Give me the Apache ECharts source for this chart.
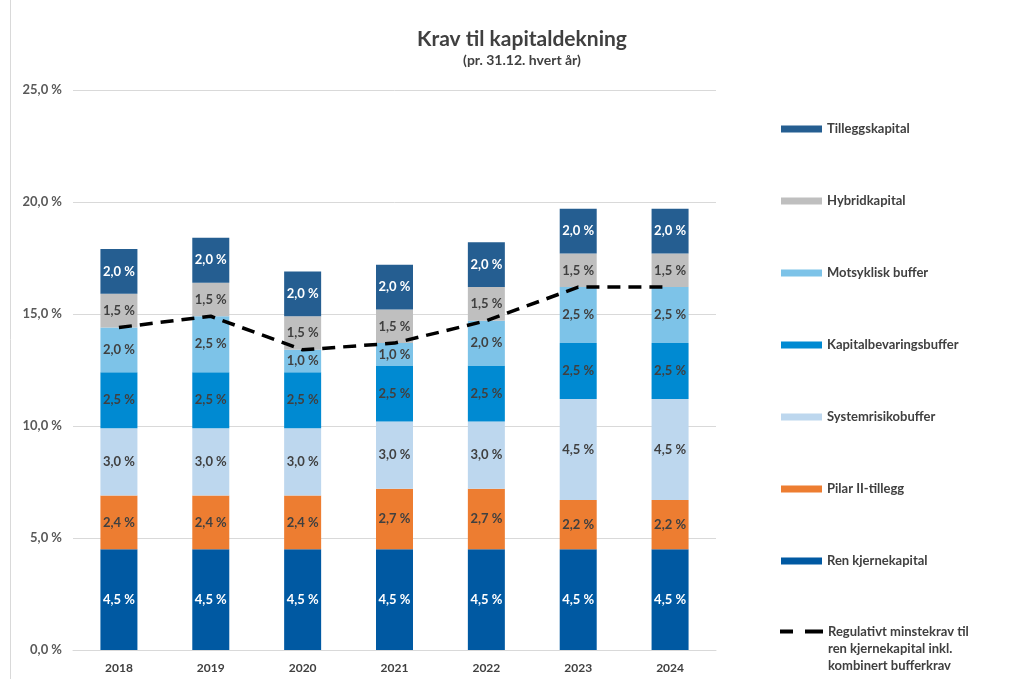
<!DOCTYPE html>
<html>
<head>
<meta charset="utf-8">
<script src="https://cdn.jsdelivr.net/npm/echarts@6/dist/echarts.min.js"></script>
<style>
html,body{margin:0;padding:0;background:#fff;}
#c{width:1014px;height:679px;}
</style>
</head>
<body>
<div id="c"></div>
<script>
const years = ['2018','2019','2020','2021','2022','2023','2024'];
const renKjernekapital = [4.5,4.5,4.5,4.5,4.5,4.5,4.5];
const pilarII = [2.4,2.4,2.4,2.7,2.7,2.2,2.2];
const systemrisikobuffer = [3.0,3.0,3.0,3.0,3.0,4.5,4.5];
const kapitalbevaringsbuffer = [2.5,2.5,2.5,2.5,2.5,2.5,2.5];
const motsykliskBuffer = [2.0,2.5,1.0,1.0,2.0,2.5,2.5];
const hybridkapital = [1.5,1.5,1.5,1.5,1.5,1.5,1.5];
const tilleggskapital = [2.0,2.0,2.0,2.0,2.0,2.0,2.0];
const minstekrav = [14.4,14.9,13.4,13.7,14.7,16.2,16.2];
const yTicks = [0,5,10,15,20,25];

const FONT = 'Lato, "Open Sans", sans-serif';
const fmt = v => Number(v).toFixed(1).replace('.', ',') + ' %';
const lineName = 'Regulativt minstekrav til\nren kjernekapital inkl.\nkombinert bufferkrav';

function bar(name, data, color, labelColor) {
  return {
    name, type: 'bar', stack: 'k', data, barWidth: 37,
    itemStyle: { color },
    label: {
      show: true, position: 'inside', color: labelColor,
      fontFamily: FONT, fontWeight: 'bold', fontSize: 13,
      formatter: p => fmt(p.value)
    },
    emphasis: { disabled: true }
  };
}

const chart = echarts.init(document.getElementById('c'));
chart.setOption({
  animation: false,
  backgroundColor: '#fff',
  title: {
    text: 'Krav til kapitaldekning',
    subtext: '(pr. 31.12. hvert år)',
    left: 517, textAlign: 'center', top: 24, itemGap: 3,
    textStyle: { fontFamily: FONT, fontWeight: 'bold', fontSize: 21, color: '#404040' },
    subtextStyle: { fontFamily: FONT, fontWeight: 'bold', fontSize: 14, color: '#404040' }
  },
  graphic: [{
    type: 'line', shape: { x1: 10.5, y1: 0, x2: 10.5, y2: 679 },
    style: { stroke: '#D9D9D9', lineWidth: 1 }
  }],
  grid: { left: 73, right: 298, top: 90, bottom: 29 },
  legend: [{
    orient: 'vertical', left: 781, top: 122, padding: 0,
    itemWidth: 41, itemHeight: 7, itemGap: 58,
    icon: 'rect',
    data: ['Tilleggskapital','Hybridkapital','Motsyklisk buffer','Kapitalbevaringsbuffer','Systemrisikobuffer','Pilar II-tillegg','Ren kjernekapital'],
    textStyle: { fontFamily: FONT, fontWeight: 'bold', fontSize: 13, color: '#404040', lineHeight: 14 },
    selectedMode: false
  }, {
    orient: 'vertical', left: 780, top: 589, padding: 0,
    itemWidth: 43, itemHeight: 4,
    data: [{ name: lineName, icon: 'path://M0,0 H13 V4 H0 Z M25,0 H43 V4 H25 Z' }],
    formatter: name => '\n\n' + name,
    itemStyle: { color: '#000000' },
    textStyle: { fontFamily: FONT, fontWeight: 'bold', fontSize: 13, color: '#404040', lineHeight: 17 },
    selectedMode: false
  }],
  xAxis: {
    type: 'category', data: years,
    axisLine: { lineStyle: { color: '#D9D9D9' } },
    axisTick: { show: false },
    axisLabel: { fontFamily: FONT, fontWeight: 'bold', fontSize: 12, color: '#404040', margin: 12 }
  },
  yAxis: {
    type: 'value', min: 0, max: 25, interval: 5,
    axisLine: { show: false }, axisTick: { show: false },
    splitLine: { lineStyle: { color: '#D9D9D9' } },
    axisLabel: { fontFamily: FONT, fontWeight: 'bold', fontSize: 13, color: '#595959', margin: 11,
      formatter: v => yTicks.includes(v) ? fmt(v) : '' }
  },
  series: [
    bar('Ren kjernekapital', renKjernekapital, '#0059A2', '#ffffff'),
    bar('Pilar II-tillegg', pilarII, '#ED7D31', '#404040'),
    bar('Systemrisikobuffer', systemrisikobuffer, '#BDD7EE', '#404040'),
    bar('Kapitalbevaringsbuffer', kapitalbevaringsbuffer, '#008AD2', '#404040'),
    bar('Motsyklisk buffer', motsykliskBuffer, '#7DC3E8', '#404040'),
    bar('Hybridkapital', hybridkapital, '#BFBFBF', '#404040'),
    bar('Tilleggskapital', tilleggskapital, '#255E91', '#ffffff'),
    {
      name: lineName,
      type: 'line', data: minstekrav, symbol: 'none', z: 5,
      lineStyle: { color: '#000000', width: 3.5, type: [13, 8] },
      itemStyle: { color: '#000000' },
      emphasis: { disabled: true }
    }
  ]
});
</script>
</body>
</html>
